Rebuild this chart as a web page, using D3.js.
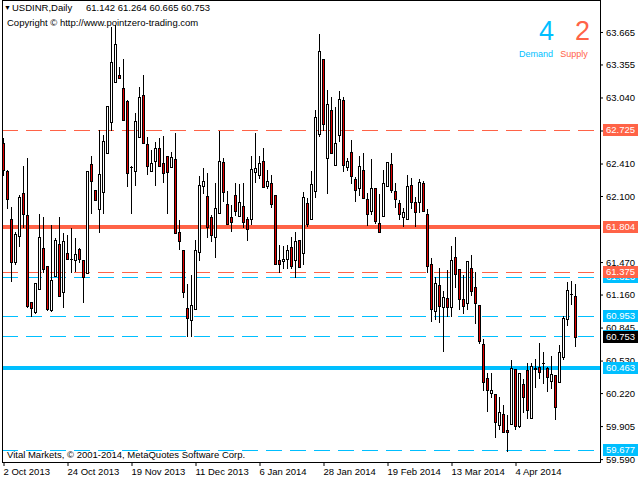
<!DOCTYPE html>
<html><head><meta charset="utf-8">
<script src="https://cdn.jsdelivr.net/npm/d3@7"></script>
<style>
body{margin:0;background:#fff;}
svg{display:block;}
text{font-family:"Liberation Sans",Arial,sans-serif;}
</style>
</head><body><svg id="c" width="640" height="480"></svg>
<script>
// ---- data ----
const symbolName = "USDINR,Daily";
const openP = [62.603,62.341,61.881,61.470,61.721,62.129,61.919,61.089,60.996,61.213,
61.604,61.432,61.013,61.337,61.642,61.187,61.553,61.497,61.490,61.592,
61.490,61.363,62.405,62.157,61.973,62.141,62.513,62.803,63.191,63.255,
63.128,63.009,62.381,62.341,62.666,63.064,62.596,62.341,62.437,62.561,
62.412,62.482,62.380,62.450,61.754,61.585,61.029,60.917,61.019,61.563,
62.198,62.100,61.897,61.706,61.935,62.422,62.024,61.897,62.110,61.912,
62.005,61.878,61.881,62.332,62.300,62.431,62.198,62.221,62.110,61.490,
61.480,61.496,61.616,61.490,61.680,61.553,62.031,61.878,62.151,62.692,
63.404,62.460,62.921,62.396,62.679,63.016,62.380,62.517,62.262,62.174,
62.345,62.069,61.960,62.174,61.840,61.912,62.198,62.405,62.148,62.031,
61.897,61.881,62.205,62.040,62.046,62.227,61.928,61.451,61.006,61.251,
61.044,61.124,61.038,61.518,61.401,61.115,61.077,61.410,61.235,61.060,
60.688,60.361,60.224,60.208,59.915,60.018,59.868,59.922,60.447,59.909,
60.304,60.440,59.979,60.447,60.472,60.504,60.462,60.338,60.392,60.323,
60.561,60.924,61.162,61.142];
const highP = [62.653,62.348,61.995,61.757,62.110,62.389,62.463,61.089,61.270,61.928,
61.903,61.432,61.823,61.697,61.903,61.744,61.728,61.792,61.697,61.604,
61.490,62.339,62.482,62.157,62.730,62.682,62.959,63.715,63.732,63.334,
63.404,63.016,62.390,62.895,63.143,63.255,62.666,62.539,62.618,62.651,
62.673,62.482,62.523,62.698,61.871,61.585,61.261,61.346,61.680,62.291,
62.364,62.317,61.919,62.221,62.723,62.466,62.148,62.014,62.221,62.215,
62.221,61.903,62.482,62.698,62.482,62.561,62.348,62.300,62.110,61.633,
61.623,61.633,61.712,61.754,61.680,62.141,62.078,62.339,62.921,63.646,
63.404,63.111,63.042,62.952,63.102,63.047,62.463,62.634,62.284,62.482,
62.508,62.126,62.450,62.174,62.119,62.348,62.422,62.513,62.227,62.062,
61.983,62.300,62.269,62.088,62.262,62.246,61.976,61.506,61.330,61.410,
61.194,61.394,61.623,61.712,61.401,61.346,61.480,61.537,61.378,61.060,
60.733,60.407,60.414,60.208,60.180,60.106,60.011,60.536,60.447,60.409,
60.351,60.510,60.504,60.542,60.695,60.615,60.472,60.574,60.392,60.679,
60.955,61.277,61.292,61.264];
const lowP = [62.300,61.986,61.289,61.451,61.626,61.807,61.044,60.955,60.984,61.213,
61.378,61.013,61.006,61.337,61.149,61.038,61.496,61.378,61.388,61.470,
61.092,61.363,61.935,62.062,61.754,61.935,62.513,62.730,63.191,63.223,
62.825,62.198,61.935,62.205,62.666,62.609,62.310,62.341,62.205,62.386,
62.237,61.941,62.380,61.744,61.592,61.139,60.765,60.765,61.019,61.490,
62.126,61.712,61.674,61.515,61.935,62.055,61.830,61.769,61.919,61.912,
61.802,61.680,61.833,62.237,62.269,62.189,62.174,61.998,61.449,61.372,
61.410,61.410,61.410,61.330,61.420,61.451,61.817,61.878,62.093,62.673,
62.730,62.126,62.508,62.396,62.628,62.341,62.348,62.221,62.055,62.110,
62.078,61.823,61.928,61.840,61.754,61.912,62.198,62.141,61.998,61.878,
61.817,61.881,61.989,61.817,61.945,61.960,61.372,60.910,60.924,60.901,
60.624,60.955,60.958,61.235,61.019,60.981,61.019,61.156,60.891,60.701,
60.249,60.049,60.180,59.804,59.874,59.852,59.670,59.922,59.874,59.894,
60.042,59.979,59.979,60.275,60.361,60.319,60.243,60.266,59.973,60.323,
60.542,60.869,61.070,60.665];
const closeP = [62.348,62.069,61.470,61.738,62.093,61.928,61.054,61.032,61.267,61.712,
61.404,61.022,61.299,61.680,61.149,61.674,61.496,61.495,61.547,61.496,
61.325,62.339,62.246,62.062,62.310,62.628,62.959,63.381,63.550,63.223,
62.825,62.317,62.379,62.816,63.042,62.609,62.389,62.412,62.555,62.386,
62.317,62.332,62.475,61.744,61.671,61.187,60.933,61.060,61.585,62.205,
62.240,61.802,61.728,61.983,62.434,62.141,61.830,61.849,61.960,62.040,
61.849,61.782,62.355,62.364,62.412,62.189,62.240,62.021,61.449,61.449,
61.499,61.585,61.435,61.671,61.420,62.088,61.833,62.212,62.851,63.486,
62.787,62.975,62.508,62.609,63.023,62.396,62.434,62.294,62.155,62.386,
62.078,61.926,62.174,61.865,61.754,62.221,62.422,62.157,62.069,61.926,
61.945,62.196,62.040,61.945,62.237,61.960,61.435,61.019,61.273,61.054,
61.134,61.038,61.490,61.353,61.115,61.054,61.480,61.197,61.077,60.720,
60.329,60.249,60.249,59.947,60.037,59.852,59.846,60.456,59.909,60.409,
60.180,60.059,60.481,60.462,60.424,60.505,60.371,60.399,60.084,60.609,
60.939,61.203,61.165,60.753];

const xTickIdx = [0,16,32,48,64,80,96,112,128];
const xTickLabels = ["2 Oct 2013","24 Oct 2013","19 Nov 2013","11 Dec 2013","6 Jan 2014","28 Jan 2014","19 Feb 2014","13 Mar 2014","4 Apr 2014"];
const yTicks = [63.665,63.355,63.040,62.725,62.410,62.100,61.470,61.160,60.845,60.530,60.220,59.905,59.590];

const supplyDashed = [62.725, 61.375];
const supplyMain = [61.804];
const demandDashed = [61.326, 60.953, 60.760, 59.677];
const demandMain = [60.463];
const demandCount = 4, supplyCount = 2;

// ---- drawing ----
const W = 640, H = 480;
const plotL = 2, plotR = 600, plotB = 462;
const BLUE = "#00bfff", SALMON = "#ff6347", BEAR = "#e00000";
const svg = d3.select("#c");
svg.append("rect").attr("width",W).attr("height",H).attr("fill","#fff");

const x = d3.scaleLinear().domain([0, openP.length-1]).range([3.5, 3.5 + 4*(openP.length-1)]);
const y = d3.scaleLinear().domain([63.970, 59.5624]).range([0, plotB]);
const fmt = d3.format(".3f");

// horizontal levels
const lv = svg.append("g");
function dashed(vals, col){
  lv.selectAll(null).data(vals).enter().append("line")
    .attr("x1",plotL).attr("x2",plotR)
    .attr("y1",d=>Math.round(y(d))+0.5).attr("y2",d=>Math.round(y(d))+0.5)
    .attr("stroke",col).attr("stroke-width",1).attr("stroke-dasharray","16,8");
}
function thick(vals, col){
  lv.selectAll(null).data(vals).enter().append("line")
    .attr("x1",plotL).attr("x2",plotR)
    .attr("y1",d=>Math.round(y(d))).attr("y2",d=>Math.round(y(d)))
    .attr("stroke",col).attr("stroke-width",4);
}
dashed(supplyDashed, SALMON); dashed(demandDashed, BLUE);
thick(supplyMain, SALMON); thick(demandMain, BLUE);

// candles
const idx = d3.range(openP.length);
const cg = svg.append("g");
idx.forEach(i=>{
  const cx = x(i);
  const yh = Math.round(y(highP[i])), yl = Math.round(y(lowP[i]));
  cg.append("line").attr("x1",cx).attr("x2",cx).attr("y1",yh).attr("y2",yl+1)
    .attr("stroke","#000").attr("stroke-width",1);
  const top = Math.round(y(Math.max(openP[i],closeP[i])));
  const bot = Math.round(y(Math.min(openP[i],closeP[i])));
  const bull = closeP[i] >= openP[i];
  if (bot - top < 1) {
    cg.append("line").attr("x1",cx-1.5).attr("x2",cx+1.5).attr("y1",top+0.5).attr("y2",top+0.5)
      .attr("stroke","#000").attr("stroke-width",1);
  } else {
    cg.append("rect").attr("x",cx-1).attr("y",top+0.5).attr("width",2).attr("height",bot-top)
      .attr("fill", bull ? "#fff" : BEAR).attr("stroke","#000").attr("stroke-width",1);
  }
});

// frame
svg.append("line").attr("x1",2.5).attr("x2",2.5).attr("y1",0).attr("y2",plotB+0.5).attr("stroke","#000");
svg.append("line").attr("x1",2).attr("x2",plotR+1).attr("y1",0.5).attr("y2",0.5).attr("stroke","#000");
svg.append("line").attr("x1",2).attr("x2",plotR+1).attr("y1",plotB+0.5).attr("y2",plotB+0.5).attr("stroke","#000");

// y axis
const ya = svg.append("g").attr("transform",`translate(${plotR},0)`)
  .call(d3.axisRight(y).tickValues(yTicks).tickSize(3).tickSizeOuter(0).tickPadding(3).tickFormat(fmt));
ya.select(".domain").attr("stroke","#000");
ya.selectAll("text").attr("font-size","9.5px").attr("font-family","Liberation Sans, Arial, sans-serif").attr("fill","#000");

// x axis
const xa = svg.append("g").attr("transform",`translate(0,${plotB})`)
  .call(d3.axisBottom(x).tickValues(xTickIdx).tickSize(4).tickPadding(2).tickFormat((d,k)=>xTickLabels[k]));
xa.select(".domain").remove();
xa.selectAll("text").attr("text-anchor","start").attr("dx","-0.5")
  .attr("font-size","9.5px").attr("font-family","Liberation Sans, Arial, sans-serif").attr("fill","#000");

// price labels on axis
function priceLabel(v, col){
  const yy = Math.round(y(v));
  const g = svg.append("g");
  g.append("rect").attr("x",603).attr("y",yy-6).attr("width",35).attr("height",12).attr("fill",col);
  g.append("text").attr("x",606).attr("y",yy).attr("dy","0.35em").attr("font-size","9.5px")
    .attr("fill","#fff").text(fmt(v));
}
demandDashed.concat(demandMain).forEach(v=>priceLabel(v, BLUE));
supplyDashed.concat(supplyMain).forEach(v=>priceLabel(v, SALMON));
priceLabel(closeP[closeP.length-1], "#000");

// header texts
const last = openP.length-1;
svg.append("text").attr("x",4).attr("y",9.5).attr("font-size","7px").text("▼");
svg.append("text").attr("x",12).attr("y",10.5).attr("font-size","9.5px").text(symbolName);
svg.append("text").attr("x",86).attr("y",10.5).attr("font-size","9.5px")
  .text([openP[last],highP[last],lowP[last],closeP[last]].map(fmt).join(" "));
svg.append("text").attr("x",7).attr("y",26).attr("font-size","9.5px").text("Copyright © http://www.pointzero-trading.com");
svg.append("text").attr("x",7).attr("y",458).attr("font-size","9.5px").text("Vital Markets, © 2001-2014, MetaQuotes Software Corp.");

svg.append("text").attr("x",546.5).attr("y",40).attr("text-anchor","middle").attr("font-size","27px").attr("fill",BLUE).text(demandCount);
svg.append("text").attr("x",582.5).attr("y",40).attr("text-anchor","middle").attr("font-size","27px").attr("fill",SALMON).text(supplyCount);
svg.append("text").attr("x",536).attr("y",57).attr("text-anchor","middle").attr("font-size","9px").attr("fill",BLUE).text("Demand");
svg.append("text").attr("x",574).attr("y",57).attr("text-anchor","middle").attr("font-size","9px").attr("fill",SALMON).text("Supply");
</script>
</body></html>
